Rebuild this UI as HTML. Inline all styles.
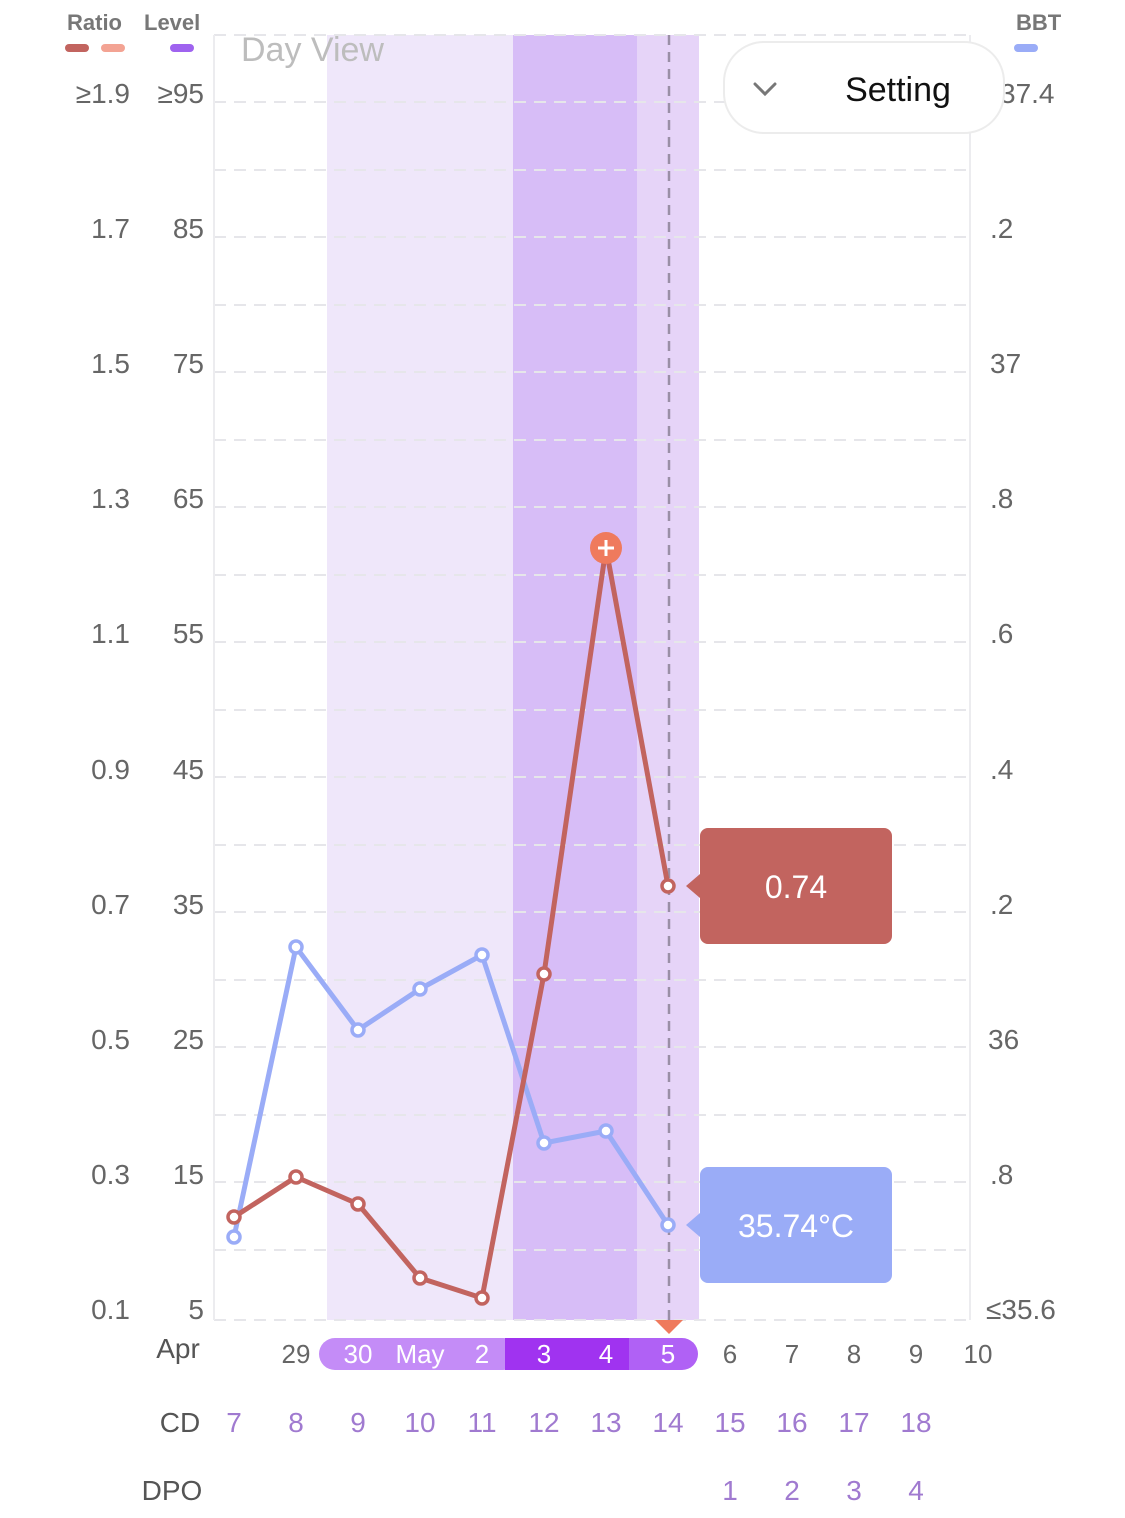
<!DOCTYPE html>
<html><head><style>
body{margin:0;background:#fff;}
svg{display:block;font-family:"Liberation Sans",sans-serif;}
</style></head><body>
<svg width="1125" height="1518" viewBox="0 0 1125 1518" xmlns="http://www.w3.org/2000/svg">
<rect x="327" y="35" width="186" height="1285" fill="#efe7fa"/>
<rect x="513" y="35" width="124" height="1285" fill="#d7bdf7"/>
<rect x="637" y="35" width="62" height="1285" fill="#e6d4f8"/>
<g stroke="#e6e6ea" stroke-width="2" stroke-dasharray="12,8">
<line x1="214" y1="35" x2="970" y2="35"/>
<line x1="214" y1="102" x2="970" y2="102"/><line x1="214" y1="170" x2="970" y2="170"/>
<line x1="214" y1="237" x2="970" y2="237"/><line x1="214" y1="305" x2="970" y2="305"/>
<line x1="214" y1="372" x2="970" y2="372"/><line x1="214" y1="440" x2="970" y2="440"/>
<line x1="214" y1="507" x2="970" y2="507"/><line x1="214" y1="575" x2="970" y2="575"/>
<line x1="214" y1="642" x2="970" y2="642"/><line x1="214" y1="710" x2="970" y2="710"/>
<line x1="214" y1="777" x2="970" y2="777"/><line x1="214" y1="845" x2="970" y2="845"/>
<line x1="214" y1="912" x2="970" y2="912"/><line x1="214" y1="980" x2="970" y2="980"/>
<line x1="214" y1="1047" x2="970" y2="1047"/><line x1="214" y1="1115" x2="970" y2="1115"/>
<line x1="214" y1="1182" x2="970" y2="1182"/><line x1="214" y1="1250" x2="970" y2="1250"/>
<line x1="214" y1="1320" x2="970" y2="1320"/>
</g>
<line x1="214" y1="35" x2="214" y2="1320" stroke="#ececef" stroke-width="2"/>
<line x1="970" y1="35" x2="970" y2="1320" stroke="#ececef" stroke-width="2"/>
<line x1="669" y1="35" x2="669" y2="1320" stroke="#9a8fa6" stroke-width="2.5" stroke-dasharray="10,7"/>
<text x="241" y="61" font-size="34" fill="#bdbdbd">Day View</text>
<g font-size="15" font-weight="bold" fill="#777"><text x="67" y="30" font-size="22">Ratio</text><text x="144" y="30" font-size="22">Level</text><text x="1016" y="30" font-size="22">BBT</text></g>
<rect x="65" y="44" width="24" height="8" rx="4" fill="#c2645f"/>
<rect x="101" y="44" width="24" height="8" rx="4" fill="#f3a393"/>
<rect x="170" y="44" width="24" height="8" rx="4" fill="#9f63ef"/>
<rect x="1014" y="44" width="24" height="8" rx="4" fill="#9aacf7"/>
<g font-size="28" fill="#666" text-anchor="end">
<text x="130" y="103">≥1.9</text><text x="204" y="103">≥95</text>
<text x="130" y="238">1.7</text><text x="204" y="238">85</text>
<text x="130" y="373">1.5</text><text x="204" y="373">75</text>
<text x="130" y="508">1.3</text><text x="204" y="508">65</text>
<text x="130" y="643">1.1</text><text x="204" y="643">55</text>
<text x="130" y="779">0.9</text><text x="204" y="779">45</text>
<text x="130" y="914">0.7</text><text x="204" y="914">35</text>
<text x="130" y="1049">0.5</text><text x="204" y="1049">25</text>
<text x="130" y="1184">0.3</text><text x="204" y="1184">15</text>
<text x="130" y="1319">0.1</text><text x="204" y="1319">5</text>
</g>
<g font-size="28" fill="#666">
<text x="1000" y="103">37.4</text><text x="990" y="238">.2</text><text x="990" y="373">37</text>
<text x="990" y="508">.8</text><text x="990" y="643">.6</text><text x="990" y="779">.4</text>
<text x="990" y="914">.2</text><text x="988" y="1049">36</text><text x="990" y="1184">.8</text>
<text x="986" y="1319">≤35.6</text>
</g>
<rect x="724" y="42" width="280" height="91" rx="40" fill="#fff" stroke="#ececec" stroke-width="2"/>
<polyline points="755,84 765,94 775,84" fill="none" stroke="#777" stroke-width="3" stroke-linecap="round"/>
<text x="898" y="101" font-size="34" fill="#111" text-anchor="middle">Setting</text>
<polyline points="234,1237 296,947 358,1030 420,989 482,955 544,1143 606,1131 668,1225" fill="none" stroke="#9aacf7" stroke-width="5" stroke-linejoin="round"/>
<polyline points="234,1217 296,1177 358,1204 420,1278 482,1298 544,974 606,548 668,886" fill="none" stroke="#c2645f" stroke-width="5" stroke-linejoin="round"/>
<g fill="#fff" stroke="#9aacf7" stroke-width="3.5">
<circle cx="234" cy="1237" r="6"/><circle cx="296" cy="947" r="6"/><circle cx="358" cy="1030" r="6"/><circle cx="420" cy="989" r="6"/><circle cx="482" cy="955" r="6"/><circle cx="544" cy="1143" r="6"/><circle cx="606" cy="1131" r="6"/><circle cx="668" cy="1225" r="6"/>
</g>
<g fill="#fff" stroke="#c2645f" stroke-width="3.5">
<circle cx="234" cy="1217" r="6"/><circle cx="296" cy="1177" r="6"/><circle cx="358" cy="1204" r="6"/><circle cx="420" cy="1278" r="6"/><circle cx="482" cy="1298" r="6"/><circle cx="544" cy="974" r="6"/><circle cx="668" cy="886" r="6"/>
</g>
<circle cx="606" cy="548" r="16" fill="#ef7a5d"/>
<path d="M598 548h16M606 540v16" stroke="#fff" stroke-width="3"/>
<path d="M700 836a8 8 0 0 1 8-8h176a8 8 0 0 1 8 8v100a8 8 0 0 1-8 8h-176a8 8 0 0 1-8-8v-38l-14-12 14-12z" fill="#c2645f"/>
<text x="796" y="898" font-size="32" fill="#fff" text-anchor="middle">0.74</text>
<path d="M700 1175a8 8 0 0 1 8-8h176a8 8 0 0 1 8 8v100a8 8 0 0 1-8 8h-176a8 8 0 0 1-8-8v-38l-14-12 14-12z" fill="#9aacf7"/>
<text x="796" y="1237" font-size="32" fill="#fff" text-anchor="middle">35.74°C</text>
<path d="M655 1320h28l-14 14z" fill="#ef7a5d"/>
<rect x="319" y="1338" width="200" height="32" rx="16" fill="#c48cf7"/>
<rect x="505" y="1338" width="124" height="32" fill="#a033f0"/>
<path d="M629 1338h53a16 16 0 0 1 0 32h-53z" fill="#b061f5"/>
<g font-size="26" text-anchor="middle">
<text x="178" y="1358" fill="#555" font-size="28">Apr</text>
<text x="296" y="1363" fill="#666">29</text>
<text x="358" y="1363" fill="#fff">30</text>
<text x="420" y="1363" fill="#fff">May</text>
<text x="482" y="1363" fill="#fff">2</text>
<text x="544" y="1363" fill="#fff">3</text>
<text x="606" y="1363" fill="#fff">4</text>
<text x="668" y="1363" fill="#fff">5</text>
<text x="730" y="1363" fill="#666">6</text><text x="792" y="1363" fill="#666">7</text><text x="854" y="1363" fill="#666">8</text><text x="916" y="1363" fill="#666">9</text><text x="978" y="1363" fill="#666">10</text>
</g>
<g font-size="28" text-anchor="middle" fill="#a07ad0">
<text x="180" y="1432" fill="#555" font-size="28">CD</text>
<text x="234" y="1432">7</text><text x="296" y="1432">8</text><text x="358" y="1432">9</text><text x="420" y="1432">10</text><text x="482" y="1432">11</text><text x="544" y="1432">12</text><text x="606" y="1432">13</text><text x="668" y="1432">14</text><text x="730" y="1432">15</text><text x="792" y="1432">16</text><text x="854" y="1432">17</text><text x="916" y="1432">18</text>
<text x="172" y="1500" fill="#555">DPO</text>
<text x="730" y="1500">1</text><text x="792" y="1500">2</text><text x="854" y="1500">3</text><text x="916" y="1500">4</text>
</g>
</svg>
</body></html>
